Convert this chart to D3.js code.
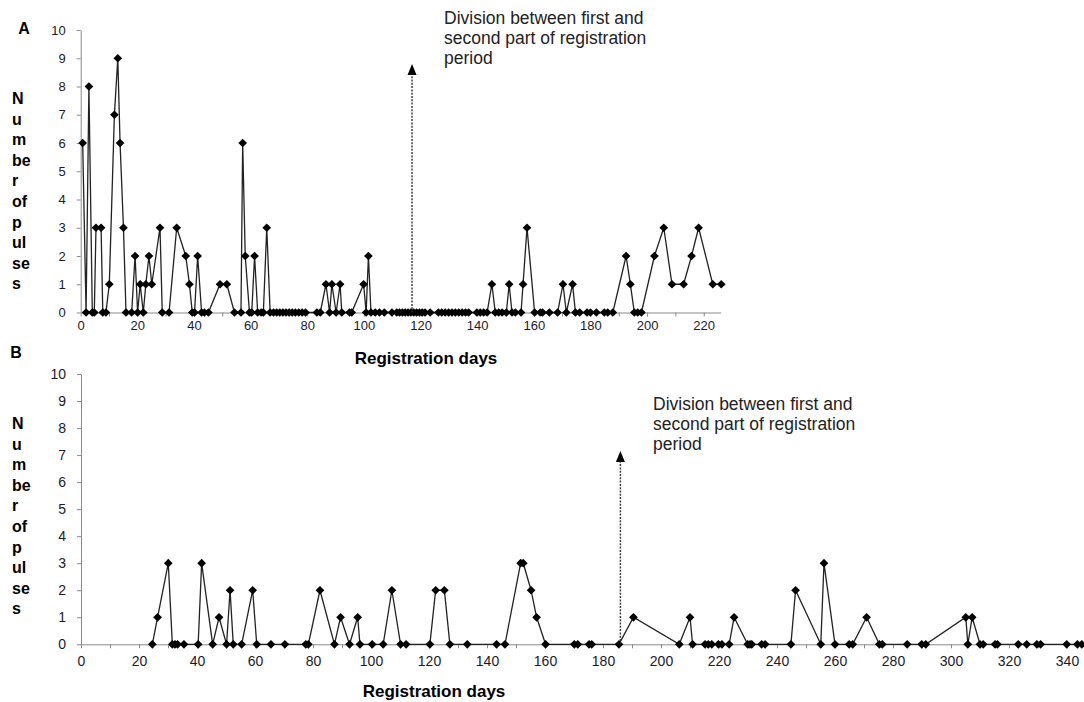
<!DOCTYPE html>
<html>
<head>
<meta charset="utf-8">
<script src="https://cdn.jsdelivr.net/npm/d3@7"></script>
<style>
  body { margin: 0; background: #fff; }
  svg { display: block; font-family: "Liberation Sans", Arial, sans-serif; }
</style>
</head>
<body>
<div id="chart"></div>
<script>
// --- DONNEES ---
// Panel A : jours d'enregistrement / nombre de pulses
const daysA = [
  0.7, 1.9, 2.9, 4.1, 4.8, 5.4, 7.2, 7.8, 8.9, 10.1,
  11.9, 13.1, 13.9, 15.1, 16, 18, 19.2, 20.1, 21, 22.1,
  23, 24.1, 25.1, 28, 28.8, 31.2, 33.9, 37.1, 38.4, 39.4,
  40.2, 41.3, 42.7, 43.7, 45.1, 49.2, 51.6, 54.3, 56.6, 57.2,
  58.1, 59.6, 60.4, 61.4, 62.5, 63.7, 64.5, 65.7, 66.9, 68.1,
  69.2, 70.3, 71.4, 72.5, 73.6, 74.7, 75.8, 77, 78.2, 79.4,
  83.4, 84.6, 86.6, 87.9, 88.7, 90.2, 91.6, 92.2, 94.9, 95.7,
  99.9, 100.8, 101.6, 102.5, 104, 105.5, 107.2, 109.9, 111.6, 112.6,
  113.6, 114.6, 115.6, 116.6, 117.6, 118.6, 119.6, 120.6, 121.6, 123.4,
  126.3, 127.5, 128.7, 129.9, 131.1, 132.3, 133.5, 134.7, 135.9, 137,
  139.9, 141.1, 142.3, 143.5, 145.2, 146.4, 147.6, 148.8, 150.3, 151.3,
  152.3, 153.5, 155.5, 156.2, 157.6, 160.3, 162.3, 163.1, 165.5, 168.4,
  170.3, 171.5, 173.7, 174.7, 176.2, 178.8, 180, 182.1, 184.9, 186.1,
  187.9, 192.6, 194.1, 195.5, 196.7, 198, 202.6, 205.9, 208.8, 212.9,
  215.7, 218.2, 223.2, 226.2
];
const pulsesA = [
  6, 0, 8, 0, 0, 3, 3, 0, 0, 1,
  7, 9, 6, 3, 0, 0, 2, 0, 1, 0,
  1, 2, 1, 3, 0, 0, 3, 2, 1, 0,
  0, 2, 0, 0, 0, 1, 1, 0, 0, 6,
  2, 0, 0, 2, 0, 0, 0, 3, 0, 0,
  0, 0, 0, 0, 0, 0, 0, 0, 0, 0,
  0, 0, 1, 0, 1, 0, 1, 0, 0, 0,
  1, 0, 2, 0, 0, 0, 0, 0, 0, 0,
  0, 0, 0, 0, 0, 0, 0, 0, 0, 0,
  0, 0, 0, 0, 0, 0, 0, 0, 0, 0,
  0, 0, 0, 0, 1, 0, 0, 0, 0, 1,
  0, 0, 0, 1, 3, 0, 0, 0, 0, 0,
  1, 0, 1, 0, 0, 0, 0, 0, 0, 0,
  0, 2, 1, 0, 0, 0, 2, 3, 1, 1,
  2, 3, 1, 1
];

// Panel B
const daysB = [
  24.6, 26.4, 30.1, 31.5, 32.4, 33.3, 35.5, 40.4, 41.6, 45.4,
  47.6, 50.2, 51.4, 52.5, 55.4, 59.2, 60.6, 65.5, 70.3, 77.5,
  78.4, 82.4, 87.4, 89.5, 92.6, 95.4, 96.2, 100.4, 104.2, 107.2,
  110.2, 112.1, 120.3, 122.3, 125.3, 127.2, 133.2, 143.3, 146.2, 151.6,
  152.5, 155.2, 157.1, 160.2, 170.1, 171.3, 175.2, 176.1, 185.5, 190.5,
  206.3, 210, 210.9, 215.2, 216.3, 217.5, 219.8, 221, 223.5, 225.2,
  229.9, 230.7, 231.3, 234.7, 235.9, 244.8, 246.4, 255.1, 256.2, 260,
  264.9, 266.1, 270.9, 275.3, 276.3, 284.9, 289.9, 291.3, 305.1, 305.8,
  307.3, 310, 311.1, 315.2, 316, 323.2, 326.1, 329.6, 330.9, 339.9,
  343.6, 345.1
];
const pulsesB = [
  0, 1, 3, 0, 0, 0, 0, 0, 3, 0,
  1, 0, 2, 0, 0, 2, 0, 0, 0, 0,
  0, 2, 0, 1, 0, 1, 0, 0, 0, 2,
  0, 0, 0, 2, 2, 0, 0, 0, 0, 3,
  3, 2, 1, 0, 0, 0, 0, 0, 0, 1,
  0, 1, 0, 0, 0, 0, 0, 0, 0, 1,
  0, 0, 0, 0, 0, 0, 2, 0, 3, 0,
  0, 0, 1, 0, 0, 0, 0, 0, 1, 0,
  1, 0, 0, 0, 0, 0, 0, 0, 0, 0,
  0, 0
];

// Axes et textes
const yTicks = [0, 1, 2, 3, 4, 5, 6, 7, 8, 9, 10];
const xMaxA = 226, xMaxB = 346;
const divisionDayA = 117, divisionDayB = 186;
const yTitle = ["N", "u", "m", "be", "r", "of", "p", "ul", "se", "s"];
const xTitle = "Registration days";
const noteLines = ["Division between first and", "second part of registration", "period"];

const width = 1084, height = 702;
const svg = d3.select("#chart").append("svg")
  .attr("width", width)
  .attr("height", height);

// --- FONCTION POUR DESSINER UN PANNEAU ---
function drawPanel(p) {
  const g = svg.append("g");
  const x = d3.scaleLinear().domain([0, p.xMax]).range([p.left, p.right]);
  const y = d3.scaleLinear().domain([0, 10]).range([p.bottom, p.top]);

  // axe X (ticks tous les 10, labels tous les 20)
  const xAxis = g.append("g")
    .attr("transform", `translate(0,${p.bottom})`)
    .call(d3.axisBottom(x)
      .tickValues(d3.range(0, p.xMax + 1, 10))
      .tickFormat(d => d % 20 === 0 ? d : "")
      .tickSize(4).tickSizeOuter(0).tickPadding(p.xPad));
  xAxis.select(".domain").attr("stroke", "#8a8a8a");
  xAxis.selectAll(".tick line").attr("stroke", "#8a8a8a");
  xAxis.selectAll("text").attr("fill", "#1a1a2a").style("font-size", p.tickFont + "px");

  // axe Y
  const yAxis = g.append("g")
    .attr("transform", `translate(${p.left},0)`)
    .call(d3.axisLeft(y).tickValues(yTicks)
      .tickSize(4).tickSizeOuter(0).tickPadding(11));
  yAxis.select(".domain").attr("stroke", "#8a8a8a");
  yAxis.selectAll(".tick line").attr("stroke", "#8a8a8a");
  yAxis.selectAll("text").attr("fill", "#1a1a2a").style("font-size", p.tickFont + "px");

  // ligne
  const pts = p.days.map((d, i) => [d, p.pulses[i]]);
  g.append("path")
    .datum(pts)
    .attr("d", d3.line().x(d => x(d[0])).y(d => y(d[1])))
    .attr("fill", "none")
    .attr("stroke", "#222")
    .attr("stroke-width", 1.3);

  // marqueurs losanges
  const diamond = d3.symbol().type(d3.symbolSquare).size(38);
  g.selectAll(".pt").data(pts).enter().append("path")
    .attr("class", "pt")
    .attr("d", diamond)
    .attr("transform", d => `translate(${x(d[0])},${y(d[1])}) rotate(45)`)
    .attr("fill", "#000");

  // fleche de division
  const ax = x(p.division);
  g.append("line")
    .attr("x1", ax).attr("x2", ax)
    .attr("y1", p.bottom).attr("y2", p.arrowTip + 9)
    .attr("stroke", "#333")
    .attr("stroke-width", 1.4)
    .attr("stroke-dasharray", "2,1.3");
  g.append("path")
    .attr("d", `M${ax},${p.arrowTip} L${ax - 4.5},${p.arrowTip + 11} L${ax + 4.5},${p.arrowTip + 11} Z`)
    .attr("fill", "#000");

  // annotation
  const note = g.append("text")
    .attr("x", p.noteX)
    .attr("y", p.noteY)
    .style("font-size", "17.5px")
    .attr("fill", "#222");
  noteLines.forEach((l, i) => {
    note.append("tspan").attr("x", p.noteX).attr("y", p.noteY + i * 20).text(l);
  });

  // titre axe X
  g.append("text")
    .attr("x", p.xTitleX)
    .attr("y", p.xTitleY)
    .attr("text-anchor", "middle")
    .style("font-size", "17px")
    .style("font-weight", "bold")
    .attr("fill", "#000")
    .text(xTitle);

  // titre axe Y (lettres empilees)
  yTitle.forEach((s, i) => {
    g.append("text")
      .attr("x", 12)
      .attr("y", p.yTitleY + i * 20.6)
      .style("font-size", "16px")
      .style("font-weight", "bold")
      .attr("fill", "#000")
      .text(s);
  });

  // lettre du panneau
  g.append("text")
    .attr("x", p.letterX)
    .attr("y", p.letterY)
    .attr("text-anchor", "middle")
    .style("font-size", "16px")
    .style("font-weight", "bold")
    .text(p.letter);
}

drawPanel({
  letter: "A", letterX: 24, letterY: 34,
  days: daysA, pulses: pulsesA, xMax: xMaxA,
  left: 80.7, right: 720.7, top: 30, bottom: 312.5,
  xPad: 4, tickFont: 13,
  division: divisionDayA, arrowTip: 64,
  noteX: 444, noteY: 24,
  xTitleX: 426, xTitleY: 364,
  yTitleY: 104
});

drawPanel({
  letter: "B", letterX: 16, letterY: 358,
  days: daysB, pulses: pulsesB, xMax: xMaxB,
  left: 81, right: 1084.4, top: 374, bottom: 644.3,
  xPad: 8, tickFont: 14,
  division: divisionDayB, arrowTip: 451,
  noteX: 653, noteY: 410,
  xTitleX: 434, xTitleY: 697,
  yTitleY: 429
});
</script>
</body>
</html>
